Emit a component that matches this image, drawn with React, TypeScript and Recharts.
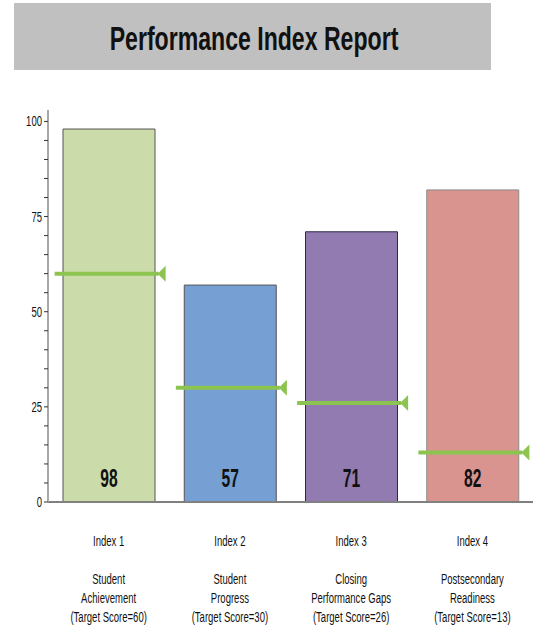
import React from "react";
import {
    ComposedChart,
    Bar,
    Cell,
    Scatter,
    XAxis,
    YAxis,
    LabelList,
} from "recharts";

const categories = ["Index 1", "Index 2", "Index 3", "Index 4"];
const descriptions = [
    ["Student", "Achievement"],
    ["Student", "Progress"],
    ["Closing", "Performance Gaps"],
    ["Postsecondary", "Readiness"],
];
const scores = [98, 57, 71, 82];
const targets = [60, 30, 26, 13];
const yTicks = [0, 5, 10, 15, 20, 25, 30, 35, 40, 45, 50, 55, 60, 65, 70, 75, 80, 85, 90, 95, 100];

const barColors = ["#cbdba9", "#769fd3", "#917bb0", "#d9948f"];
const barStrokes = ["#555", "#555", "#2b2b48", "#8a8a8a"];
const FONT = "'Liberation Sans', Arial, sans-serif";

const data = categories.map((name, i) => ({
    name,
    score: scores[i],
    target: targets[i],
}));

// text squeezed horizontally, the reference uses a very narrow face
function Narrow({ x, y, sx, anchor = "middle", size, bold, children }: any) {
    return (
        <text
            transform={`translate(${x},${y}) scale(${sx},1)`}
            textAnchor={anchor}
            fontFamily={FONT}
            fontSize={size}
            fontWeight={bold ? "bold" : "normal"}
            fill="#111"
        >
            {children}
        </text>
    );
}

function CategoryTick(props: any) {
    const { x, y, index } = props;
    const lines = [categories[index], "", ...descriptions[index], `(Target Score=${targets[index]})`];
    return (
        <g>
            {lines.map((l, i) =>
                l ? (
                    <Narrow key={i} x={x} y={y + 36 + i * 19} sx={0.68} size={14}>
                        {l}
                    </Narrow>
                ) : null
            )}
        </g>
    );
}

function ValueTick(props: any) {
    const { x, y, payload } = props;
    if (payload.value % 25 !== 0) return null;
    return (
        <Narrow x={x} y={y + 5} sx={0.68} size={14} anchor="end">
            {payload.value}
        </Narrow>
    );
}

function TargetMarker(props: any) {
    const { cx, cy } = props;
    if (cx == null || cy == null) return null;
    const green = "#8dc450";
    return (
        <g>
            <line x1={cx - 54} x2={cx + 50} y1={cy} y2={cy} stroke={green} strokeWidth={4} />
            <polygon points={`${cx + 49},${cy} ${cx + 57},${cy - 8} ${cx + 57},${cy + 8}`} fill={green} />
        </g>
    );
}

function ScoreLabel(props: any) {
    const { x, y, width, height, value } = props;
    return (
        <Narrow x={x + width / 2} y={y + height - 15} sx={0.6} size={26} bold>
            {value}
        </Narrow>
    );
}

export default function App() {
    return (
        <div style={{ position: "absolute", left: 0, top: 0, width: 535, height: 627, background: "#fff" }}>
            <div style={{ position: "absolute", left: 14, top: 3, width: 477, height: 67, background: "#c0c0c0" }}>
                <svg width={477} height={67}>
                    <Narrow x={240} y={47} sx={0.7} size={33} bold>
                        Performance Index Report
                    </Narrow>
                </svg>
            </div>
            <div style={{ position: "absolute", left: 0, top: 0 }}>
                <ComposedChart
                    width={535}
                    height={627}
                    data={data}
                    margin={{ top: 110, right: 2, bottom: 5, left: 0 }}
                >
                    <XAxis
                        dataKey="name"
                        height={120}
                        axisLine={{ stroke: "#808080", strokeWidth: 2 }}
                        tickLine={false}
                        tick={<CategoryTick />}
                        interval={0}
                    />
                    <YAxis
                        width={48}
                        domain={[0, 103]}
                        ticks={yTicks}
                        interval={0}
                        axisLine={{ stroke: "#a8a8a8", strokeWidth: 2 }}
                        tickLine={{ stroke: "#333" }}
                        tickSize={4}
                        tick={<ValueTick />}
                    />
                    <Bar dataKey="score" barSize={92} isAnimationActive={false}>
                        {data.map((d, i) => (
                            <Cell key={d.name} fill={barColors[i]} stroke={barStrokes[i]} strokeWidth={1} />
                        ))}
                        <LabelList dataKey="score" content={<ScoreLabel />} />
                    </Bar>
                    <Scatter dataKey="target" shape={<TargetMarker />} isAnimationActive={false} />
                </ComposedChart>
            </div>
        </div>
    );
}
